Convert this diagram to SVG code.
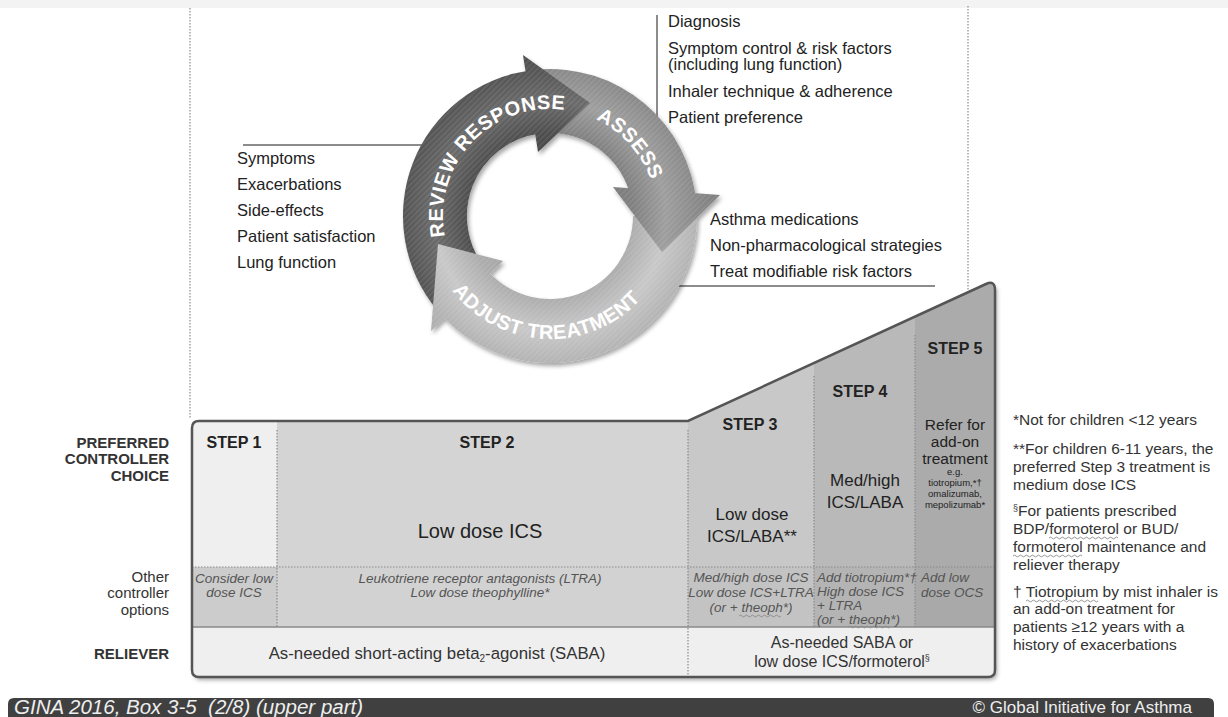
<svg xmlns="http://www.w3.org/2000/svg" width="1228" height="717" viewBox="0 0 1228 717">
<defs>
<style>
text{font-family:"Liberation Sans",Arial,Helvetica,sans-serif;fill:#222}
.li{font-size:16.5px}
.cy{font-size:20px;font-weight:bold;fill:#fff;letter-spacing:0.5px}
.lab{font-size:15px;font-weight:bold;fill:#333;text-anchor:end}
.labn{font-size:15px;fill:#333;text-anchor:end}
.st{font-size:16px;font-weight:bold;text-anchor:middle}
.pc{text-anchor:middle}
.oc{font-size:13.5px;font-style:italic;fill:#555}
.fn{font-size:15.5px;fill:#333}
.rl{font-size:16px;fill:#333;text-anchor:middle}
.rlb{font-size:16.8px}
.bn{fill:#eeeeee}
.dot{stroke:#8a8a8a;stroke-width:1.2;stroke-dasharray:1.5 1.5;fill:none}
.ln{stroke:#8c8c8c;stroke-width:2;fill:none}
.sq{stroke:#8a8a8a;stroke-width:0.9;fill:none}
</style>
<radialGradient id="gR" gradientUnits="userSpaceOnUse" cx="550" cy="216" r="170">
<stop offset="0.38" stop-color="#474747"/><stop offset="0.49" stop-color="#4e4e4e"/><stop offset="0.68" stop-color="#6b6b6b"/><stop offset="0.865" stop-color="#545454"/><stop offset="1" stop-color="#4a4a4a"/>
</radialGradient>
<radialGradient id="gA" gradientUnits="userSpaceOnUse" cx="550" cy="216" r="170">
<stop offset="0.38" stop-color="#7a7a7a"/><stop offset="0.49" stop-color="#808080"/><stop offset="0.68" stop-color="#9e9e9e"/><stop offset="0.865" stop-color="#898989"/><stop offset="1" stop-color="#7e7e7e"/>
</radialGradient>
<radialGradient id="gJ" gradientUnits="userSpaceOnUse" cx="550" cy="216" r="170">
<stop offset="0.38" stop-color="#a6a6a6"/><stop offset="0.49" stop-color="#adadad"/><stop offset="0.68" stop-color="#c8c8c8"/><stop offset="0.865" stop-color="#b3b3b3"/><stop offset="1" stop-color="#aaaaaa"/>
</radialGradient>
<pattern id="stripes" width="4" height="4" patternUnits="userSpaceOnUse" patternTransform="rotate(45)"><rect width="1.4" height="4" fill="#fff" fill-opacity="0.1"/></pattern>
<filter id="sh" x="-5%" y="-5%" width="112%" height="115%"><feDropShadow dx="2" dy="3" stdDeviation="2" flood-color="#000" flood-opacity="0.35"/></filter>
<clipPath id="boxClip"><path d="M199,421 L688,421 L986,284 Q995,280 995,290 L995,670 Q995,677 988,677 L199,677 Q192,677 192,670 L192,428 Q192,421 199,421 Z"/></clipPath>
<path id="tpR" d="M457.3,269.5 A107,107 0 0 1 598.6,120.7"/>
<path id="tpA" d="M574.1,111.7 A107,107 0 0 1 656.2,203.0"/>
<path id="tpJ" d="M433.0,254.0 A123,123 0 0 0 663.2,264.1"/>
<path id="bR" d="M437.4,310.5 A147,147 0 0 1 529.5,70.4 L538.4,133.8 A83,83 0 0 0 486.4,269.4 Z"/>
<path id="bA" d="M537.2,69.6 A147,147 0 0 1 696.4,203.2 L632.7,208.8 A83,83 0 0 0 542.8,133.3 Z"/>
<path id="bJ" d="M697,216 A147,147 0 0 1 440.8,314.4 L488.3,271.5 A83,83 0 0 0 633,216 Z"/>
<path id="hR" d="M538,152 L523,55 L590,103 Z"/>
<path id="hA" d="M613,187 L720,195 L662,252 Z"/>
<path id="hJ" d="M503,261 L431,331 L438,244 Z"/>
</defs>

<rect x="0" y="0" width="1228" height="717" fill="#fff"/>
<rect x="0" y="0" width="1228" height="8" fill="#f3f3f3"/>

<g id="guides">
<line class="dot" x1="190" y1="8" x2="190" y2="418"/>
<line class="dot" x1="968" y1="6" x2="968" y2="290"/>
</g>

<g id="connectors">
<line class="ln" x1="243" y1="145" x2="423" y2="145"/>
<line class="ln" x1="657" y1="15" x2="657" y2="123"/>
<line class="ln" x1="672" y1="286" x2="935" y2="286"/>
</g>

<g id="cycle" filter="url(#sh)">
<use href="#bR" fill="url(#gR)"/><use href="#bR" fill="url(#stripes)"/>
<use href="#bA" fill="url(#gA)"/><use href="#bA" fill="url(#stripes)"/>
<use href="#bJ" fill="url(#gJ)"/><use href="#bJ" fill="url(#stripes)"/>
<use href="#hR" fill="url(#gR)"/><use href="#hR" fill="url(#stripes)"/>
<use href="#hA" fill="url(#gA)"/><use href="#hA" fill="url(#stripes)"/>
<use href="#hJ" fill="url(#gJ)"/><use href="#hJ" fill="url(#stripes)"/>
</g>
<g id="cycle-labels">
<text class="cy"><textPath href="#tpR" startOffset="50%" text-anchor="middle">REVIEW RESPONSE</textPath></text>
<text class="cy"><textPath href="#tpA" startOffset="50%" text-anchor="middle">ASSESS</textPath></text>
<text class="cy"><textPath href="#tpJ" startOffset="50%" text-anchor="middle">ADJUST TREATMENT</textPath></text>
</g>

<g id="review-list">
<text class="li" x="237" y="164">Symptoms</text>
<text class="li" x="237" y="190">Exacerbations</text>
<text class="li" x="237" y="216">Side-effects</text>
<text class="li" x="237" y="242">Patient satisfaction</text>
<text class="li" x="237" y="268">Lung function</text>
</g>
<g id="assess-list">
<text class="li" x="668" y="27">Diagnosis</text>
<text class="li" x="668" y="54">Symptom control &amp; risk factors</text>
<text class="li" x="668" y="70">(including lung function)</text>
<text class="li" x="668" y="97">Inhaler technique &amp; adherence</text>
<text class="li" x="668" y="123">Patient preference</text>
</g>
<g id="adjust-list">
<text class="li" x="710" y="225">Asthma medications</text>
<text class="li" x="710" y="251">Non-pharmacological strategies</text>
<text class="li" x="710" y="277">Treat modifiable risk factors</text>
</g>

<g id="steps">
<path fill="#fff" filter="url(#sh)" d="M199,421 L688,421 L986,284 Q995,280 995,290 L995,670 Q995,677 988,677 L199,677 Q192,677 192,670 L192,428 Q192,421 199,421 Z"/>
<g clip-path="url(#boxClip)">
<rect x="192" y="270" width="85" height="297" fill="#efefef"/>
<rect x="277" y="270" width="411" height="297" fill="#d4d4d4"/>
<rect x="688" y="270" width="126" height="297" fill="#c8c8c8"/>
<rect x="814" y="270" width="101" height="297" fill="#b9b9b9"/>
<rect x="915" y="270" width="80" height="297" fill="#ababab"/>
<rect x="192" y="567" width="85" height="60" fill="#cccccc"/>
<rect x="277" y="567" width="411" height="60" fill="#d2d2d2"/>
<rect x="688" y="567" width="126" height="60" fill="#c3c3c3"/>
<rect x="814" y="567" width="101" height="60" fill="#b4b4b4"/>
<rect x="915" y="567" width="80" height="60" fill="#a9a9a9"/>
<rect x="192" y="627" width="803" height="50" fill="#efefef"/>
<line class="dot" x1="277" y1="430" x2="277" y2="627"/>
<line class="dot" x1="688" y1="430" x2="688" y2="677"/>
<line class="dot" x1="814" y1="376" x2="814" y2="627"/>
<line class="dot" x1="915" y1="335" x2="915" y2="627"/>
<line class="dot" x1="192" y1="567" x2="995" y2="567"/>
<line x1="192" y1="627" x2="995" y2="627" stroke="#8a8a8a" stroke-width="1.5"/>
</g>
<path fill="none" stroke="#555" stroke-width="2.5" d="M199,421 L688,421 L986,284 Q995,280 995,290 L995,670 Q995,677 988,677 L199,677 Q192,677 192,670 L192,428 Q192,421 199,421 Z"/>
</g>

<g id="row-labels">
<text class="lab" x="169" y="448">PREFERRED</text>
<text class="lab" x="169" y="464">CONTROLLER</text>
<text class="lab" x="169" y="481">CHOICE</text>
<text class="labn" x="169" y="582">Other</text>
<text class="labn" x="169" y="598">controller</text>
<text class="labn" x="169" y="615">options</text>
<text class="lab" x="169" y="659">RELIEVER</text>
</g>

<g id="step1">
<text class="st" x="234" y="448">STEP 1</text>
<text class="oc pc" x="234" y="583">Consider low</text>
<text class="oc pc" x="234" y="597">dose ICS</text>
</g>
<g id="step2">
<text class="st" x="487" y="448">STEP 2</text>
<text class="pc" x="480" y="538" font-size="20">Low dose ICS</text>
<text class="oc pc" x="480" y="583">Leukotriene receptor antagonists (LTRA)</text>
<text class="oc pc" x="480" y="597">Low dose theophylline*</text>
</g>
<g id="step3">
<text class="st" x="750" y="430">STEP 3</text>
<text class="pc" x="752" y="520" font-size="17">Low dose</text>
<text class="pc" x="752" y="542" font-size="17">ICS/LABA**</text>
<text class="oc pc" x="751" y="582">Med/high dose ICS</text>
<text class="oc pc" x="751" y="597">Low dose ICS+LTRA</text>
<text class="oc pc" x="751" y="612">(or + theoph*)</text>
<path class="sq" d="M739,616 q1.5,-1.8 3,0 t3,0 t3,0 t3,0 t3,0 t3,0 t3,0 t3,0 t3,0 t3,0 t3,0 t3,0 t3,0 t3,0"/>
</g>
<g id="step4">
<text class="st" x="860" y="397">STEP 4</text>
<text class="pc" x="865" y="486" font-size="17">Med/high</text>
<text class="pc" x="865" y="508" font-size="17">ICS/LABA</text>
<text class="oc" x="817" y="582">Add tiotropium*†</text>
<text class="oc" x="817" y="596">High dose ICS</text>
<text class="oc" x="817" y="610">+ LTRA</text>
<text class="oc" x="817" y="624">(or + theoph*)</text>
<path class="sq" d="M848,627 q1.5,-1.8 3,0 t3,0 t3,0 t3,0 t3,0 t3,0 t3,0 t3,0 t3,0 t3,0 t3,0 t3,0 t3,0 t3,0"/>
</g>
<g id="step5">
<text class="st" x="955" y="354">STEP 5</text>
<text class="pc" x="955" y="430" font-size="15.5">Refer for</text>
<text class="pc" x="955" y="447" font-size="15.5">add-on</text>
<text class="pc" x="955" y="464" font-size="15.5">treatment</text>
<text class="pc" x="955" y="475" font-size="9.5">e.g.</text>
<text class="pc" x="955" y="486" font-size="9.5">tiotropium,*†</text>
<text class="pc" x="955" y="497" font-size="9.5">omalizumab,</text>
<text class="pc" x="955" y="508" font-size="9.5">mepolizumab*</text>
<text class="oc" x="921" y="582">Add low</text>
<text class="oc" x="921" y="597">dose OCS</text>
</g>
<g id="reliever">
<text class="rl rlb" x="437" y="659">As-needed short-acting beta<tspan font-size="10" dy="3">2</tspan><tspan dy="-3">-agonist (SABA)</tspan></text>
<text class="rl" x="842" y="648">As-needed SABA or</text>
<text class="rl" x="842" y="667">low dose ICS/formoterol<tspan font-size="9" dy="-6">§</tspan></text>
</g>

<g id="footnotes">
<text class="fn" x="1013" y="425">*Not for children &lt;12 years</text>
<text class="fn" x="1013" y="454">**For children 6-11 years, the</text>
<text class="fn" x="1013" y="472">preferred Step 3 treatment is</text>
<text class="fn" x="1013" y="490">medium dose ICS</text>
<text class="fn" x="1013" y="516"><tspan font-size="9" dy="-5">§</tspan><tspan dy="5">For patients prescribed</tspan></text>
<text class="fn" x="1013" y="534">BDP/formoterol or BUD/</text>
<text class="fn" x="1013" y="552">formoterol maintenance and</text>
<text class="fn" x="1013" y="570">reliever therapy</text>
<text class="fn" x="1013" y="597">† Tiotropium by mist inhaler is</text>
<text class="fn" x="1013" y="614">an add-on treatment for</text>
<text class="fn" x="1013" y="632">patients ≥12 years with a</text>
<text class="fn" x="1013" y="650">history of exacerbations</text>
<path class="sq" d="M1049,538 q1.5,-1.8 3,0 t3,0 t3,0 t3,0 t3,0 t3,0 t3,0 t3,0 t3,0 t3,0 t3,0 t3,0 t3,0 t3,0 t3,0 t3,0 t3,0 t3,0 t3,0 t3,0 t3,0 t3,0 t3,0"/>
<path class="sq" d="M1013,556 q1.5,-1.8 3,0 t3,0 t3,0 t3,0 t3,0 t3,0 t3,0 t3,0 t3,0 t3,0 t3,0 t3,0 t3,0 t3,0 t3,0 t3,0 t3,0 t3,0 t3,0 t3,0 t3,0 t3,0 t3,0"/>
<path class="sq" d="M1026,601 q1.5,-1.8 3,0 t3,0 t3,0 t3,0 t3,0 t3,0 t3,0 t3,0 t3,0 t3,0 t3,0 t3,0 t3,0 t3,0 t3,0 t3,0 t3,0 t3,0 t3,0 t3,0 t3,0 t3,0 t3,0 t3,0"/>
</g>

<g id="banner">
<path fill="#404040" d="M8,717 L8,704 Q8,698 14,698 L1208,698 Q1214,698 1214,704 L1214,717 Z"/>
<text class="bn" x="14" y="714" font-size="20.5" font-style="italic" xml:space="preserve">GINA 2016, Box 3-5  (2/8) (upper part)</text>
<text class="bn" x="1192" y="713" font-size="17" text-anchor="end">© Global Initiative for Asthma</text>
</g>
</svg>
